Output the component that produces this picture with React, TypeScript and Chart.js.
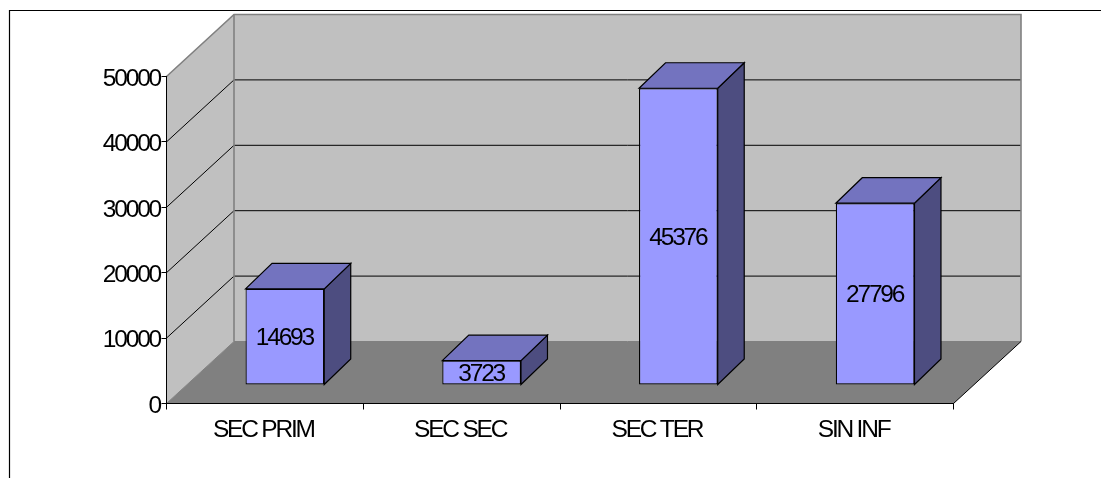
import React, { useEffect, useRef } from "react";
import { Chart, registerables } from "chart.js";

Chart.register(...registerables);

const categories = ["SEC PRIM", "SEC SEC", "SEC TER", "SIN INF"];
const values = [14693, 3723, 45376, 27796];
const axisMax = 50000;
const axisStep = 10000;

const WALL_DX = 67.5;
const WALL_DY = -62;
const BAR_SHIFT_X = 20;
const BAR_SHIFT_Y = -18.5;
const BAR_DX = 26.5;
const BAR_DY = -25.5;
const FONT = "Liberation Sans, Arial, sans-serif";
const FONT_SIZE = 24.5;
const SPACING = "-2.2px";

function poly(ctx: CanvasRenderingContext2D, pts: number[][], fill: string | null, stroke: string | null, lw = 1) {
  ctx.beginPath();
  pts.forEach((p, i) => (i ? ctx.lineTo(p[0], p[1]) : ctx.moveTo(p[0], p[1])));
  if (fill) {
    ctx.closePath();
    ctx.fillStyle = fill;
    ctx.fill();
  }
  if (stroke) {
    ctx.strokeStyle = stroke;
    ctx.lineWidth = lw;
    ctx.stroke();
  }
}

function shiftLabels(scale: any, dx: number, dy: number) {
  if (scale.__shifted) return;
  scale.__shifted = true;
  const orig = scale.drawLabels.bind(scale);
  scale.drawLabels = (area: any) => {
    scale.ctx.save();
    scale.ctx.translate(dx, dy);
    orig(area);
    scale.ctx.restore();
  };
}

const threeD = {
  id: "threeD",
  beforeDraw(chart: any) {
    const ctx: CanvasRenderingContext2D = chart.ctx;
    (ctx as any).letterSpacing = SPACING;
    const { left, right, top, bottom } = chart.chartArea;
    const y = chart.scales.y;
    ctx.save();
    // frame
    ctx.strokeStyle = "#000";
    ctx.lineWidth = 1.2;
    ctx.beginPath();
    ctx.moveTo(9.5, chart.height);
    ctx.lineTo(9.5, 10.5);
    ctx.lineTo(chart.width, 10.5);
    ctx.stroke();
    const bl = left + WALL_DX;
    const br = right + WALL_DX;
    const bt = top + WALL_DY;
    const bb = bottom + WALL_DY;
    // walls
    poly(ctx, [[bl, bt], [br, bt], [br, bb], [bl, bb]], "#C0C0C0", null);
    poly(ctx, [[left, top], [bl, bt], [bl, bb], [left, bottom]], "#C0C0C0", null);
    // floor
    poly(ctx, [[left, bottom], [right, bottom], [br, bb], [bl, bb]], "#808080", null);
    // gridlines
    y.ticks.forEach((t: any) => {
      if (t.value === 0 || t.value === axisMax) return;
      const py = y.getPixelForValue(t.value);
      poly(ctx, [[left, py], [bl, py + WALL_DY], [br, py + WALL_DY]], null, "#000", 1);
    });
    // wall edges
    poly(ctx, [[left, top], [bl, bt], [br, bt], [br, bb]], null, "#808080", 1.6);
    poly(ctx, [[bl, bt], [bl, bb]], null, "#808080", 1.6);
    poly(ctx, [[left, bottom], [bl, bb], [br, bb]], null, "#808080", 1);
    poly(ctx, [[right, bottom], [br, bb]], null, "#000", 1);
    ctx.restore();
  },
  beforeDatasetDraw(chart: any, args: any) {
    const ctx: CanvasRenderingContext2D = chart.ctx;
    const meta = chart.getDatasetMeta(args.index);
    ctx.save();
    meta.data.forEach((el: any) => {
      const p = el.getProps(["x", "y", "base", "width"], true);
      const l = p.x - p.width / 2 + BAR_SHIFT_X;
      const r = p.x + p.width / 2 + BAR_SHIFT_X;
      const t = p.y + BAR_SHIFT_Y;
      const b = p.base + BAR_SHIFT_Y;
      poly(ctx, [[r, t], [r + BAR_DX, t + BAR_DY], [r + BAR_DX, b + BAR_DY], [r, b]], "#4D4D80", "#000", 1.2);
      poly(ctx, [[l, t], [l + BAR_DX, t + BAR_DY], [r + BAR_DX, t + BAR_DY], [r, t]], "#7373BF", "#000", 1.2);
    });
    ctx.restore();
    ctx.save();
    ctx.translate(BAR_SHIFT_X, BAR_SHIFT_Y);
  },
  afterDatasetDraw(chart: any) {
    chart.ctx.restore();
  },
  afterDatasetsDraw(chart: any) {
    const ctx: CanvasRenderingContext2D = chart.ctx;
    const meta = chart.getDatasetMeta(0);
    ctx.save();
    ctx.font = `${FONT_SIZE}px ${FONT}`;
    ctx.fillStyle = "#000";
    ctx.textAlign = "center";
    ctx.textBaseline = "middle";
    meta.data.forEach((el: any, i: number) => {
      const p = el.getProps(["x", "y", "base"], true);
      ctx.fillText(String(values[i]), p.x + BAR_SHIFT_X - 0.5, (p.y + p.base) / 2 + BAR_SHIFT_Y + 1.5);
    });
    ctx.restore();
  },
};

export default function App() {
  const ref = useRef<HTMLCanvasElement>(null);
  useEffect(() => {
    const chart = new Chart(ref.current as HTMLCanvasElement, {
      type: "bar",
      data: {
        labels: categories,
        datasets: [
          {
            data: values,
            backgroundColor: "#9999FF",
            borderColor: "#000",
            borderWidth: 1.2,
            borderSkipped: false,
            barPercentage: 1,
            categoryPercentage: 0.4,
            clip: false,
          } as any,
        ],
      },
      options: {
        responsive: false,
        animation: false,
        devicePixelRatio: 1,
        layout: { padding: { top: 76.5, right: 147.5, left: 0, bottom: 0 } },
        plugins: { legend: { display: false }, title: { display: false }, tooltip: { enabled: false } },
        scales: {
          x: {
            afterFit: (s: any) => {
              s.height = 74.5;
            },
            afterUpdate: (s: any) => shiftLabels(s, -1.5, 2),
            border: { display: true, color: "#000", width: 1 },
            grid: { drawOnChartArea: false, drawTicks: true, tickLength: 6, color: "#000" },
            ticks: {
              color: "#000",
              font: { family: FONT, size: FONT_SIZE },
              padding: 4,
              maxRotation: 0,
              autoSkip: false,
            },
          },
          y: {
            min: 0,
            max: axisMax,
            afterFit: (s: any) => {
              s.width = 166.5;
            },
            afterUpdate: (s: any) => shiftLabels(s, -0.5, 2.5),
            border: { display: true, color: "#000", width: 1 },
            grid: { drawOnChartArea: false, drawTicks: true, tickLength: 5, color: "#000" },
            ticks: {
              color: "#000",
              stepSize: axisStep,
              font: { family: FONT, size: FONT_SIZE },
              padding: 1,
              callback: (v: any) => String(v),
            },
          },
        },
      },
      plugins: [threeD],
    } as any);
    return () => chart.destroy();
  }, []);
  return (
    <canvas
      ref={ref}
      width={1101}
      height={478}
      style={{ position: "fixed", left: 0, top: 0, width: 1101, height: 478, display: "block" }}
    />
  );
}
